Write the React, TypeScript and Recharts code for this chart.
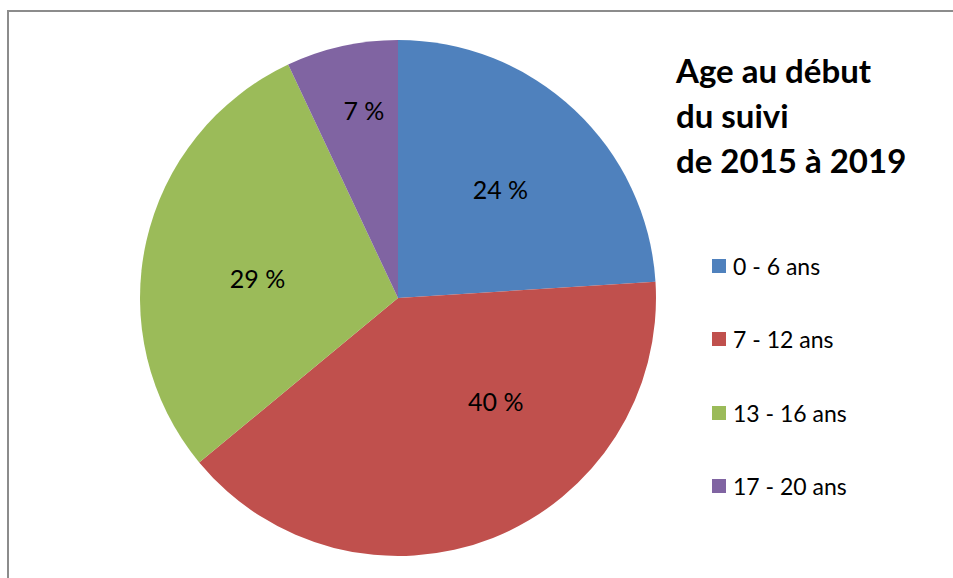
import { PieChart, Pie, Cell } from "recharts";

const categories = ["0 - 6 ans", "7 - 12 ans", "13 - 16 ans", "17 - 20 ans"];
const shares = [24, 40, 29, 7];
const colors = ["#4F81BD", "#C0504D", "#9BBB59", "#8064A2"];
const titleLines = ["Age au début", "du suivi", "de 2015 à 2019"];

const data = categories.map((name, i) => ({ name, value: shares[i] }));

// label placement tweaks (Excel "best fit" style)
const labelTweak = [
  { r: 0.58, da: 0 },
  { r: 0.55, da: 22 },
  { r: 0.55, da: 4.6 },
  { r: 0.74, da: -2.3 },
];

const FONT = "Lato, 'Open Sans', sans-serif";
const RAD = Math.PI / 180;

function renderLabel(props: any) {
  const { cx, cy, midAngle, outerRadius, index, value } = props;
  const t = labelTweak[index];
  const a = (midAngle + t.da) * RAD;
  const x = cx + outerRadius * t.r * Math.cos(a);
  const y = cy - outerRadius * t.r * Math.sin(a);
  return (
    <text x={x} y={y} textAnchor="middle" dominantBaseline="central" fill="#000" fontSize={25} fontFamily={FONT}>
      {value} %
    </text>
  );
}

function LegendBox() {
  return (
    <div style={{ position: "absolute", left: 712, top: 0, fontFamily: FONT, fontSize: 23, color: "#000" }}>
      {data.map((d, i) => (
        <div
          key={d.name}
          style={{ position: "absolute", left: 0, top: 265.5 + i * 73.5 - 15, height: 30, display: "flex", alignItems: "center", whiteSpace: "nowrap" }}
        >
          <span style={{ width: 14, height: 14, background: colors[i], display: "inline-block", marginRight: 7 }} />
          <span>{d.name}</span>
        </div>
      ))}
    </div>
  );
}

export default function App() {
  return (
    <div style={{ position: "fixed", left: 0, top: 0, width: 953, height: 578, overflow: "hidden", background: "#fff" }}>
      <div style={{ position: "absolute", left: 7, top: 10, width: 980, height: 620, border: "2px solid #8c8c8c", boxSizing: "border-box" }} />
      <div style={{ position: "absolute", left: 0, top: 0 }}>
        <PieChart width={953} height={578} margin={{ top: 0, right: 0, bottom: 0, left: 0 }}>
          <Pie
            data={data}
            dataKey="value"
            nameKey="name"
            cx={398}
            cy={298}
            outerRadius={258}
            startAngle={90}
            endAngle={-270}
            stroke="none"
            label={renderLabel}
            labelLine={false}
            isAnimationActive={false}
          >
            {data.map((d, i) => (
              <Cell key={d.name} fill={colors[i]} />
            ))}
          </Pie>
        </PieChart>
      </div>
      <LegendBox />
      <div style={{ position: "absolute", left: 676, top: 48, fontFamily: FONT, fontWeight: 700, fontSize: 33, lineHeight: "45px", color: "#000", whiteSpace: "nowrap" }}>
        {titleLines.map((l) => (
          <div key={l}>{l}</div>
        ))}
      </div>
    </div>
  );
}
